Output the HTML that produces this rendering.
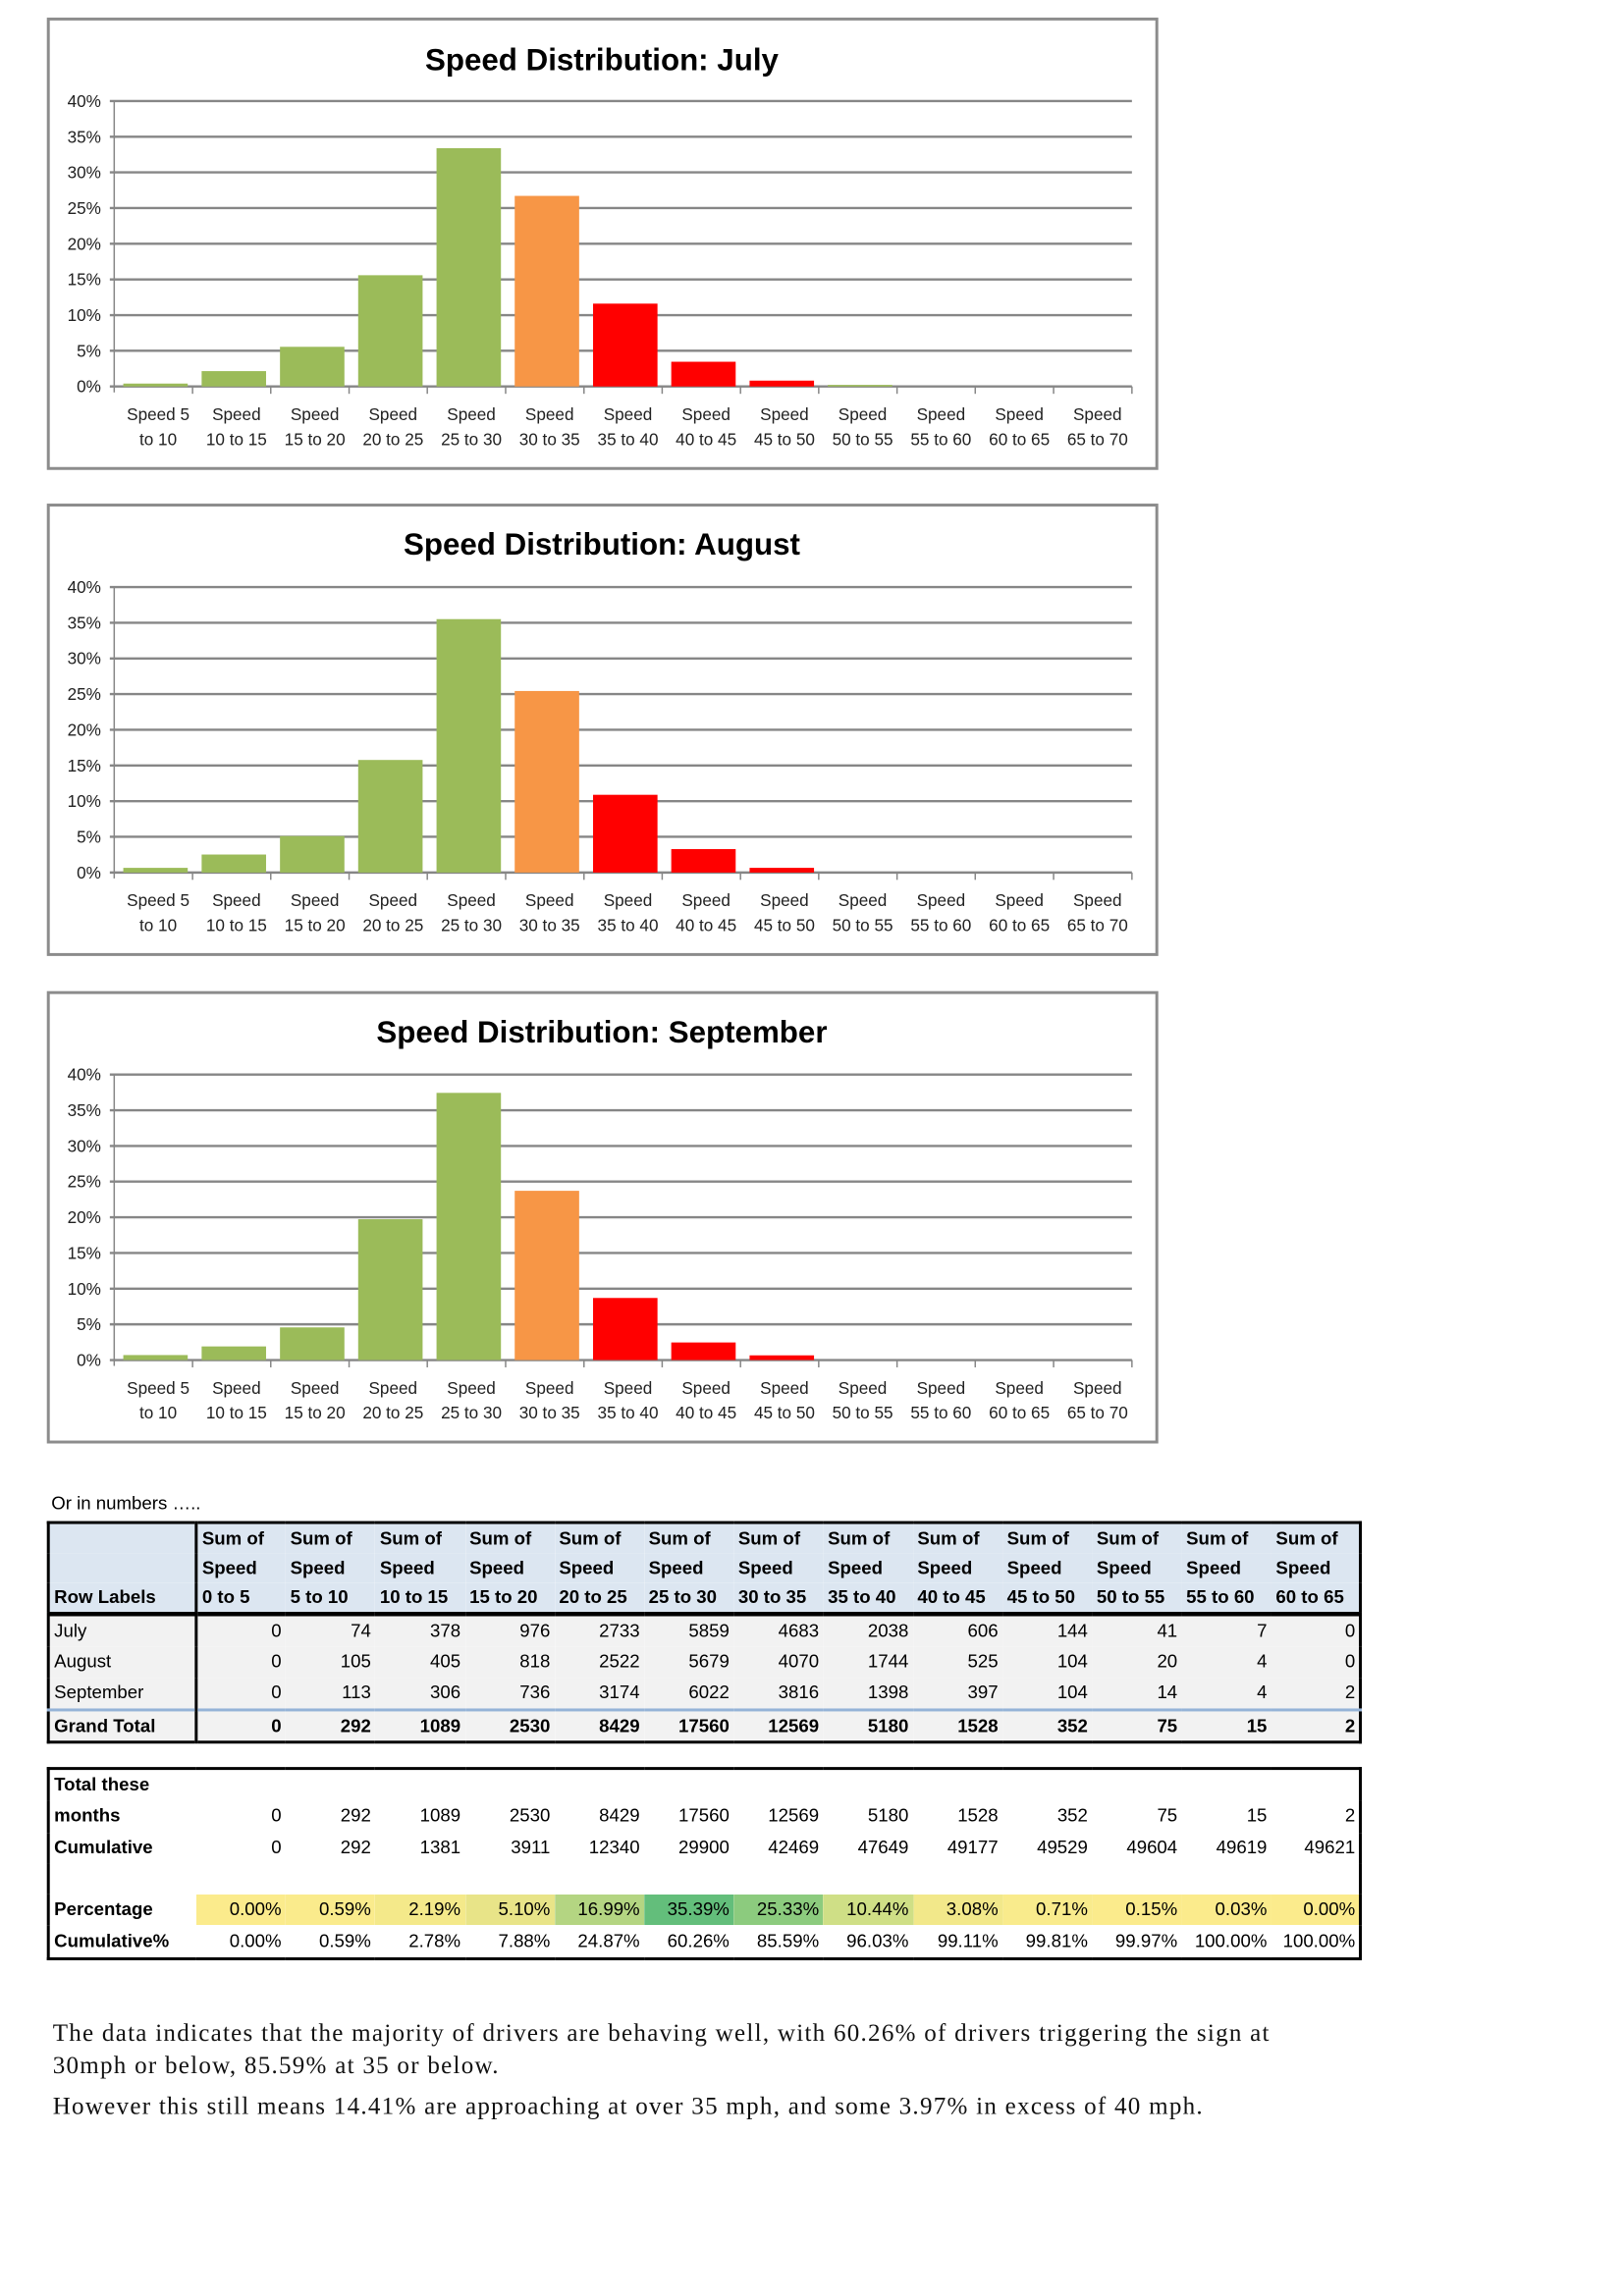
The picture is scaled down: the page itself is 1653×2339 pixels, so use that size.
<!DOCTYPE html>
<html><head><meta charset="utf-8"><style>
html,body{margin:0;padding:0;background:#fff;}
#page{position:relative;width:1108px;height:1568px;transform:scale(1.4914,1.4914);transform-origin:0 0;font-family:"Liberation Sans",sans-serif;}
svg text{font-family:"Liberation Sans",sans-serif;}
.t{position:absolute;border-collapse:collapse;table-layout:fixed;font-size:12.5px;color:#000;}
.t td{padding:0 3px;white-space:nowrap;overflow:hidden;text-align:right;}
.t td.l{text-align:left;}
#t1{left:32px;top:1039px;width:898px;border:2px solid #000;}
#t1 tr.h td{background:#dce6f1;font-weight:bold;height:20px;line-height:20px;text-align:left;}
#t1 tr.h3 td{border-bottom:3px solid #000;}
#t1 tr.b td{background:#f2f2f2;height:21px;line-height:21px;}
#t1 tr.g td{font-weight:bold;height:20px;line-height:20px;border-top:2px solid #95b3d7;background:#f2f2f2;}
#t1 td.l{border-right:2px solid #000;}
#t2{left:32px;top:1207px;width:898px;border:2px solid #000;}
#t2 td{height:21.3px;line-height:21px;}
#t2 td.l{font-weight:bold;}
p{position:absolute;left:36px;margin:0;font-family:"Liberation Serif",serif;font-size:16.8px;letter-spacing:0.85px;color:#111;}
</style></head><body><div id="page">
<svg width="1100" height="1000" style="position:absolute;left:0;top:0" xmlns="http://www.w3.org/2000/svg">
<defs>
<g id="frame">
<rect x="33" y="13" width="757" height="307" fill="#fff" stroke="#8c8c8c" stroke-width="2"/>
<g stroke="#868686" stroke-width="1.6">
<line x1="75" x2="773" y1="69" y2="69"/><line x1="75" x2="773" y1="93.4" y2="93.4"/><line x1="75" x2="773" y1="117.75" y2="117.75"/><line x1="75" x2="773" y1="142.1" y2="142.1"/><line x1="75" x2="773" y1="166.5" y2="166.5"/><line x1="75" x2="773" y1="190.9" y2="190.9"/><line x1="75" x2="773" y1="215.25" y2="215.25"/><line x1="75" x2="773" y1="239.6" y2="239.6"/><line x1="75" x2="773" y1="264" y2="264"/>
</g>
<line x1="78" x2="78" y1="69" y2="268" stroke="#868686" stroke-width="1"/>
<g stroke="#868686" stroke-width="1"><line x1="131.5" x2="131.5" y1="264" y2="269"/><line x1="184.9" x2="184.9" y1="264" y2="269"/><line x1="238.4" x2="238.4" y1="264" y2="269"/><line x1="291.8" x2="291.8" y1="264" y2="269"/><line x1="345.3" x2="345.3" y1="264" y2="269"/><line x1="398.8" x2="398.8" y1="264" y2="269"/><line x1="452.2" x2="452.2" y1="264" y2="269"/><line x1="505.7" x2="505.7" y1="264" y2="269"/><line x1="559.1" x2="559.1" y1="264" y2="269"/><line x1="612.6" x2="612.6" y1="264" y2="269"/><line x1="666" x2="666" y1="264" y2="269"/><line x1="719.5" x2="719.5" y1="264" y2="269"/><line x1="773" x2="773" y1="264" y2="269"/></g>
<g font-size="11.5" text-anchor="end" fill="#222"><text x="69" y="73">40%</text><text x="69" y="97.4">35%</text><text x="69" y="121.75">30%</text><text x="69" y="146.1">25%</text><text x="69" y="170.5">20%</text><text x="69" y="194.9">15%</text><text x="69" y="219.25">10%</text><text x="69" y="243.6">5%</text><text x="69" y="268">0%</text></g>
<g font-size="11.5" text-anchor="middle" fill="#222">
<text x="108" y="287">Speed 5</text><text x="108" y="304">to 10</text>
<text x="161.5" y="287">Speed</text><text x="161.5" y="304">10 to 15</text>
<text x="215" y="287">Speed</text><text x="215" y="304">15 to 20</text>
<text x="268.4" y="287">Speed</text><text x="268.4" y="304">20 to 25</text>
<text x="321.9" y="287">Speed</text><text x="321.9" y="304">25 to 30</text>
<text x="375.3" y="287">Speed</text><text x="375.3" y="304">30 to 35</text>
<text x="428.8" y="287">Speed</text><text x="428.8" y="304">35 to 40</text>
<text x="482.2" y="287">Speed</text><text x="482.2" y="304">40 to 45</text>
<text x="535.7" y="287">Speed</text><text x="535.7" y="304">45 to 50</text>
<text x="589.1" y="287">Speed</text><text x="589.1" y="304">50 to 55</text>
<text x="642.6" y="287">Speed</text><text x="642.6" y="304">55 to 60</text>
<text x="696.1" y="287">Speed</text><text x="696.1" y="304">60 to 65</text>
<text x="749.5" y="287">Speed</text><text x="749.5" y="304">65 to 70</text>
</g>
</g>
</defs>
<use href="#frame"/>
<text x="411" y="48" font-size="21" font-weight="bold" text-anchor="middle">Speed Distribution: July</text>
<g>
<rect x="84.2" y="262" width="44" height="2" fill="#9bbb59"/>
<rect x="137.7" y="253.5" width="44" height="10.5" fill="#9bbb59"/>
<rect x="191.2" y="236.9" width="44" height="27.1" fill="#9bbb59"/>
<rect x="244.6" y="188" width="44" height="76" fill="#9bbb59"/>
<rect x="298.1" y="101.2" width="44" height="162.8" fill="#9bbb59"/>
<rect x="351.5" y="133.8" width="44" height="130.2" fill="#f79646"/>
<rect x="405" y="207.4" width="44" height="56.6" fill="#ff0000"/>
<rect x="458.4" y="247.1" width="44" height="16.9" fill="#ff0000"/>
<rect x="511.9" y="260" width="44" height="4" fill="#ff0000"/>
<rect x="565.3" y="262.9" width="44" height="1.1" fill="#9bbb59"/>
</g>
<g transform="translate(0,332)">
<use href="#frame"/>
<text x="411" y="47" font-size="21" font-weight="bold" text-anchor="middle">Speed Distribution: August</text>
<rect x="84.2" y="260.8" width="44" height="3.2" fill="#9bbb59"/>
<rect x="137.7" y="251.7" width="44" height="12.3" fill="#9bbb59"/>
<rect x="191.2" y="239.1" width="44" height="24.9" fill="#9bbb59"/>
<rect x="244.6" y="187.1" width="44" height="76.9" fill="#9bbb59"/>
<rect x="298.1" y="90.9" width="44" height="173.1" fill="#9bbb59"/>
<rect x="351.5" y="140" width="44" height="124" fill="#f79646"/>
<rect x="405" y="210.9" width="44" height="53.1" fill="#ff0000"/>
<rect x="458.4" y="248" width="44" height="16" fill="#ff0000"/>
<rect x="511.9" y="260.8" width="44" height="3.2" fill="#ff0000"/>
</g>
<g transform="translate(0,665)">
<use href="#frame"/>
<text x="411" y="47" font-size="21" font-weight="bold" text-anchor="middle">Speed Distribution: September</text>
<rect x="84.2" y="260.6" width="44" height="3.4" fill="#9bbb59"/>
<rect x="137.7" y="254.7" width="44" height="9.3" fill="#9bbb59"/>
<rect x="191.2" y="241.7" width="44" height="22.3" fill="#9bbb59"/>
<rect x="244.6" y="167.8" width="44" height="96.2" fill="#9bbb59"/>
<rect x="298.1" y="81.5" width="44" height="182.5" fill="#9bbb59"/>
<rect x="351.5" y="148.4" width="44" height="115.6" fill="#f79646"/>
<rect x="405" y="221.6" width="44" height="42.4" fill="#ff0000"/>
<rect x="458.4" y="252" width="44" height="12" fill="#ff0000"/>
<rect x="511.9" y="260.8" width="44" height="3.2" fill="#ff0000"/>
</g>
</svg>

<div style="position:absolute;left:35px;top:1020px;font-size:12.5px;">Or in numbers …..</div>

<table class="t" id="t1">
<colgroup><col style="width:101px"><col span="13" style="width:61.2px"></colgroup>
<tr class="h"><td class="l"></td><td>Sum of</td><td>Sum of</td><td>Sum of</td><td>Sum of</td><td>Sum of</td><td>Sum of</td><td>Sum of</td><td>Sum of</td><td>Sum of</td><td>Sum of</td><td>Sum of</td><td>Sum of</td><td>Sum of</td></tr>
<tr class="h"><td class="l"></td><td>Speed</td><td>Speed</td><td>Speed</td><td>Speed</td><td>Speed</td><td>Speed</td><td>Speed</td><td>Speed</td><td>Speed</td><td>Speed</td><td>Speed</td><td>Speed</td><td>Speed</td></tr>
<tr class="h h3"><td class="l">Row Labels</td><td>0 to 5</td><td>5 to 10</td><td>10 to 15</td><td>15 to 20</td><td>20 to 25</td><td>25 to 30</td><td>30 to 35</td><td>35 to 40</td><td>40 to 45</td><td>45 to 50</td><td>50 to 55</td><td>55 to 60</td><td>60 to 65</td></tr>
<tr class="b"><td class="l">July</td><td>0</td><td>74</td><td>378</td><td>976</td><td>2733</td><td>5859</td><td>4683</td><td>2038</td><td>606</td><td>144</td><td>41</td><td>7</td><td>0</td></tr>
<tr class="b"><td class="l">August</td><td>0</td><td>105</td><td>405</td><td>818</td><td>2522</td><td>5679</td><td>4070</td><td>1744</td><td>525</td><td>104</td><td>20</td><td>4</td><td>0</td></tr>
<tr class="b"><td class="l">September</td><td>0</td><td>113</td><td>306</td><td>736</td><td>3174</td><td>6022</td><td>3816</td><td>1398</td><td>397</td><td>104</td><td>14</td><td>4</td><td>2</td></tr>
<tr class="g"><td class="l">Grand Total</td><td>0</td><td>292</td><td>1089</td><td>2530</td><td>8429</td><td>17560</td><td>12569</td><td>5180</td><td>1528</td><td>352</td><td>75</td><td>15</td><td>2</td></tr>
</table>

<table class="t" id="t2">
<colgroup><col style="width:101px"><col span="13" style="width:61.2px"></colgroup>
<tr><td class="l">Total these</td><td></td><td></td><td></td><td></td><td></td><td></td><td></td><td></td><td></td><td></td><td></td><td></td><td></td></tr>
<tr><td class="l">months</td><td>0</td><td>292</td><td>1089</td><td>2530</td><td>8429</td><td>17560</td><td>12569</td><td>5180</td><td>1528</td><td>352</td><td>75</td><td>15</td><td>2</td></tr>
<tr><td class="l">Cumulative</td><td>0</td><td>292</td><td>1381</td><td>3911</td><td>12340</td><td>29900</td><td>42469</td><td>47649</td><td>49177</td><td>49529</td><td>49604</td><td>49619</td><td>49621</td></tr>
<tr><td class="l"></td><td></td><td></td><td></td><td></td><td></td><td></td><td></td><td></td><td></td><td></td><td></td><td></td><td></td></tr>
<tr><td class="l">Percentage</td><td style="background:#fbeb8c">0.00%</td><td style="background:#faeb8c">0.59%</td><td style="background:#f4e98a">2.19%</td><td style="background:#e8e488">5.10%</td><td style="background:#b4d582">16.99%</td><td style="background:#63be7b">35.39%</td><td style="background:#8ccb7e">25.33%</td><td style="background:#cfdf86">10.44%</td><td style="background:#f2e88a">3.08%</td><td style="background:#f9eb8c">0.71%</td><td style="background:#fbeb8c">0.15%</td><td style="background:#fbeb8c">0.03%</td><td style="background:#fbeb8c">0.00%</td></tr>
<tr><td class="l">Cumulative%</td><td>0.00%</td><td>0.59%</td><td>2.78%</td><td>7.88%</td><td>24.87%</td><td>60.26%</td><td>85.59%</td><td>96.03%</td><td>99.11%</td><td>99.81%</td><td>99.97%</td><td>100.00%</td><td>100.00%</td></tr>
</table>

<p style="top:1378px;line-height:22px;">The data indicates that the majority of drivers are behaving well, with 60.26% of drivers triggering the sign at<br>30mph or below, 85.59% at 35 or below.</p>
<p style="top:1428px;line-height:22px;white-space:nowrap;">However this still means 14.41% are approaching at over 35 mph, and some 3.97% in excess of 40 mph.</p>
</div></body></html>
